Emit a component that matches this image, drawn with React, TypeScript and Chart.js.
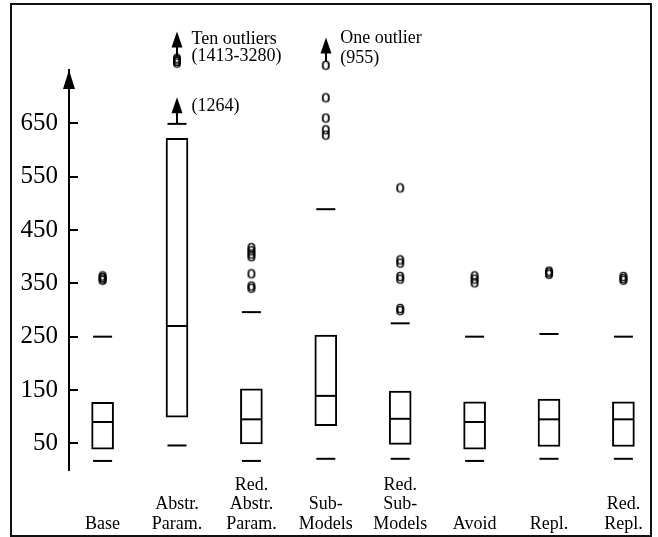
import React, { useEffect, useRef } from 'react';
import { Chart, registerables } from 'chart.js';

Chart.register(...registerables);

// ---- data ----
const categories: string[][] = [
  ['', '', 'Base'],
  ['', 'Abstr.', 'Param.'],
  ['Red.', 'Abstr.', 'Param.'],
  ['', 'Sub-', 'Models'],
  ['Red.', 'Sub-', 'Models'],
  ['', '', 'Avoid'],
  ['', '', 'Repl.'],
  ['', 'Red.', 'Repl.'],
];
const q1 = [39, 99, 49, 83, 48, 39, 44, 44];
const q3 = [127, 622, 152, 253, 148, 128, 133, 128];
const medians = [90, 270, 95, 139, 96, 90, 95, 95];
const whiskerLow = [17, 46, 17, 21, 21, 17, 21, 21];
const whiskerHigh = [250, 649, 296, 489, 275, 250, 255, 250];
const outliers: number[][] = [
  [363, 360, 357, 355],
  [771, 768, 765, 762],
  [416, 410, 404, 399, 367, 344, 340],
  [758, 697, 659, 637, 627],
  [528, 393, 387, 362, 357, 302, 298],
  [363, 357, 350],
  [372, 369, 366],
  [362, 358, 355],
];
const yTicks = [50, 150, 250, 350, 450, 550, 650];
const yMin = 0;
const yMax = 750;

// off-scale indications
const arrowCats = [1, 1, 3];
const arrowFrom = [650, 775, 765];
const arrowTo = [699, 822, 811];
const noteCats = [1, 1, 1, 3, 3];
const noteValues = [808, 776, 682, 809, 772];
const noteTexts = ['Ten outliers', '(1413-3280)', '(1264)', 'One outlier', '(955)'];

const SERIF = '"Liberation Serif", "Times New Roman", Times, serif';

function makeO(): HTMLCanvasElement {
  const c = document.createElement('canvas');
  c.width = 12;
  c.height = 12;
  const g = c.getContext('2d')!;
  g.fillStyle = '#000';
  g.strokeStyle = '#000';
  g.lineWidth = 0.45;
  g.font = `18px ${SERIF}`;
  g.textAlign = 'center';
  g.textBaseline = 'alphabetic';
  g.fillText('o', 6, 10.2);
  g.strokeText('o', 6, 10.2);
  return c;
}

const decor = {
  id: 'decor',
  afterDraw(chart: any) {
    const { ctx, chartArea } = chart;
    const xs = chart.scales.x;
    const ys = chart.scales.y;
    ctx.save();
    ctx.strokeStyle = '#111';
    ctx.fillStyle = '#000';
    // frame
    ctx.lineWidth = 2;
    ctx.strokeRect(11, 4, 640, 532);
    // y axis arrowhead
    const ax = Math.round(chartArea.left);
    const top = ys.getPixelForValue(yMax);
    ctx.beginPath();
    ctx.moveTo(ax, top);
    ctx.lineTo(ax - 6, top + 19);
    ctx.lineTo(ax + 6, top + 19);
    ctx.closePath();
    ctx.fill();
    // tick marks pointing inward
    ctx.lineWidth = 2;
    ctx.strokeStyle = '#000';
    yTicks.forEach((v) => {
      const py = Math.round(ys.getPixelForValue(v));
      ctx.beginPath();
      ctx.moveTo(ax, py);
      ctx.lineTo(ax + 9, py);
      ctx.stroke();
    });
    // arrows
    arrowCats.forEach((c, i) => {
      const px = Math.round(xs.getPixelForValue(c));
      const p0 = ys.getPixelForValue(arrowFrom[i]);
      const p1 = ys.getPixelForValue(arrowTo[i]);
      ctx.lineWidth = 2;
      ctx.beginPath();
      ctx.moveTo(px, p0);
      ctx.lineTo(px, p1 + 10);
      ctx.stroke();
      ctx.beginPath();
      ctx.moveTo(px, p1);
      ctx.lineTo(px - 5.5, p1 + 16);
      ctx.lineTo(px + 5.5, p1 + 16);
      ctx.closePath();
      ctx.fill();
    });
    // notes
    ctx.font = `18px ${SERIF}`;
    ctx.textAlign = 'left';
    ctx.textBaseline = 'middle';
    noteCats.forEach((c, i) => {
      const px = xs.getPixelForValue(c) + 14.5;
      const py = ys.getPixelForValue(noteValues[i]);
      ctx.fillText(noteTexts[i], px, py);
    });
    ctx.restore();
  },
};

export default function App() {
  const ref = useRef<HTMLCanvasElement>(null);
  useEffect(() => {
    const oImg = makeO();
    const idx = categories.map((_, i) => i);
    const chart = new Chart(ref.current!, {
      type: 'bar',
      data: {
        datasets: [
          {
            type: 'scatter',
            data: idx.map((i) => ({ x: i, y: medians[i] })),
            pointStyle: 'line',
            pointRadius: 10.5,
            borderWidth: 2,
            borderColor: '#000',
            order: 1,
          },
          {
            type: 'scatter',
            data: idx.map((i) => ({ x: i, y: whiskerLow[i] })),
            pointStyle: 'line',
            pointRadius: 9.5,
            borderWidth: 2,
            borderColor: '#000',
            order: 1,
          },
          {
            type: 'scatter',
            data: idx.map((i) => ({ x: i, y: whiskerHigh[i] })),
            pointStyle: 'line',
            pointRadius: 9.5,
            borderWidth: 2,
            borderColor: '#000',
            order: 1,
          },
          {
            type: 'scatter',
            data: outliers.flatMap((arr, i) => arr.map((v) => ({ x: i, y: v }))),
            pointStyle: oImg as any,
            pointRadius: 25,
            borderWidth: 0,
            clip: false as any,
            order: 1,
          },
          {
            type: 'bar',
            data: idx.map((i) => ({ x: i, y: [q1[i], q3[i]] })) as any,
            backgroundColor: '#fff',
            borderColor: '#000',
            borderWidth: 2,
            borderSkipped: false,
            barThickness: 22,
            order: 2,
          },
        ] as any,
      },
      options: {
        responsive: false,
        devicePixelRatio: 1,
        animation: false,
        events: [],
        layout: { autoPadding: false, padding: { top: 70, right: 18, bottom: 0, left: 0 } },
        plugins: { legend: { display: false }, tooltip: { enabled: false } },
        scales: {
          x: {
            type: 'linear',
            offset: false,
            min: -0.4516,
            max: 7.2231,
            grid: { display: false, drawTicks: false, offset: false },
            border: { display: false },
            afterBuildTicks: (s: any) => {
              s.ticks = idx.map((i) => ({ value: i }));
            },
            afterFit: (s: any) => {
              s.height = 67;
            },
            ticks: {
              autoSkip: false,
              maxRotation: 0,
              minRotation: 0,
              padding: 5,
              color: '#000',
              font: { family: SERIF, size: 18, lineHeight: 1.1 },
              callback: (v: any) => categories[Math.round(Number(v))] ?? '',
            },
          },
          y: {
            type: 'linear',
            min: yMin,
            max: yMax,
            grid: { display: false, drawTicks: false },
            border: { display: true, color: '#000', width: 2 },
            afterBuildTicks: (s: any) => {
              s.ticks = yTicks.map((v) => ({ value: v }));
            },
            afterFit: (s: any) => {
              s.width = 69;
            },
            ticks: {
              autoSkip: false,
              padding: 11,
              color: '#000',
              font: { family: SERIF, size: 25 },
            },
          },
        },
      } as any,
      plugins: [decor],
    });
    return () => chart.destroy();
  }, []);
  return (
    <div style={{ position: 'absolute', left: 0, top: 0, width: 658, height: 537, background: '#fff' }}>
      <canvas ref={ref} width={658} height={537} style={{ display: 'block', width: 658, height: 537 }} />
    </div>
  );
}
